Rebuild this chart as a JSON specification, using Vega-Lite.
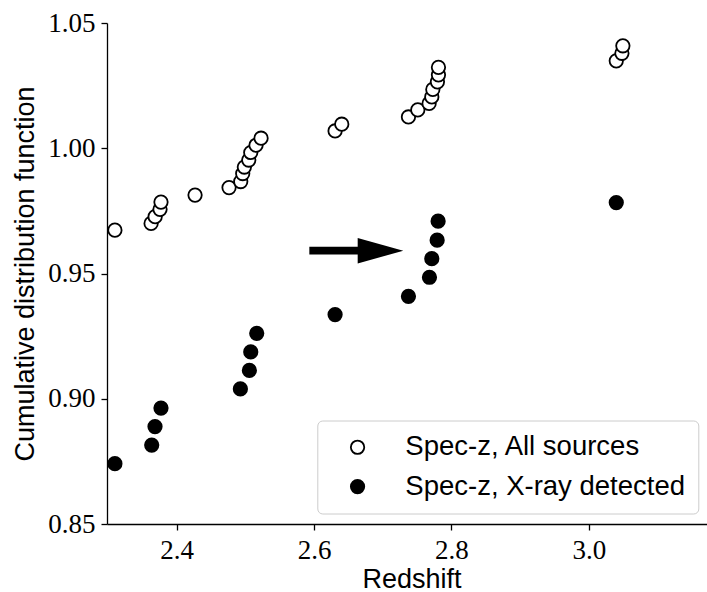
{
  "$schema": "https://vega.github.io/schema/vega-lite/v6.json",
  "autosize": "none",
  "padding": {"left": 107, "top": 23, "right": 0, "bottom": 68},
  "width": 600,
  "height": 501,
  "background": "white",
  "config": {
    "view": {"stroke": null},
    "axis": {
      "grid": false,
      "domainColor": "black",
      "domainWidth": 1.3,
      "tickColor": "black",
      "tickWidth": 1.3,
      "tickSize": 6,
      "labelFont": "Liberation Serif",
      "labelFontSize": 27,
      "labelColor": "black",
      "titleFont": "Liberation Sans",
      "titleFontSize": 27,
      "titleFontWeight": "normal",
      "titleColor": "black"
    }
  },
  "layer": [
    {
      "data": {"values": [
        {"z": 2.310, "cdf": 0.9673, "sample": "Spec-z, All sources"},
        {"z": 2.3627, "cdf": 0.9700, "sample": "Spec-z, All sources"},
        {"z": 2.3686, "cdf": 0.9727, "sample": "Spec-z, All sources"},
        {"z": 2.3757, "cdf": 0.9756, "sample": "Spec-z, All sources"},
        {"z": 2.3771, "cdf": 0.9785, "sample": "Spec-z, All sources"},
        {"z": 2.4267, "cdf": 0.9813, "sample": "Spec-z, All sources"},
        {"z": 2.4762, "cdf": 0.9843, "sample": "Spec-z, All sources"},
        {"z": 2.4932, "cdf": 0.9867, "sample": "Spec-z, All sources"},
        {"z": 2.4961, "cdf": 0.9899, "sample": "Spec-z, All sources"},
        {"z": 2.4985, "cdf": 0.9925, "sample": "Spec-z, All sources"},
        {"z": 2.5049, "cdf": 0.9953, "sample": "Spec-z, All sources"},
        {"z": 2.5078, "cdf": 0.9983, "sample": "Spec-z, All sources"},
        {"z": 2.5155, "cdf": 1.0012, "sample": "Spec-z, All sources"},
        {"z": 2.5228, "cdf": 1.0040, "sample": "Spec-z, All sources"},
        {"z": 2.6306, "cdf": 1.0069, "sample": "Spec-z, All sources"},
        {"z": 2.6403, "cdf": 1.0096, "sample": "Spec-z, All sources"},
        {"z": 2.7374, "cdf": 1.0125, "sample": "Spec-z, All sources"},
        {"z": 2.7510, "cdf": 1.0153, "sample": "Spec-z, All sources"},
        {"z": 2.7675, "cdf": 1.0179, "sample": "Spec-z, All sources"},
        {"z": 2.7714, "cdf": 1.0205, "sample": "Spec-z, All sources"},
        {"z": 2.7729, "cdf": 1.0235, "sample": "Spec-z, All sources"},
        {"z": 2.7796, "cdf": 1.0265, "sample": "Spec-z, All sources"},
        {"z": 2.7811, "cdf": 1.0293, "sample": "Spec-z, All sources"},
        {"z": 2.7811, "cdf": 1.0323, "sample": "Spec-z, All sources"},
        {"z": 3.0400, "cdf": 1.0349, "sample": "Spec-z, All sources"},
        {"z": 3.0482, "cdf": 1.0379, "sample": "Spec-z, All sources"},
        {"z": 3.0496, "cdf": 1.0409, "sample": "Spec-z, All sources"},
        {"z": 2.310, "cdf": 0.8741, "sample": "Spec-z, X-ray detected"},
        {"z": 2.3636, "cdf": 0.8815, "sample": "Spec-z, X-ray detected"},
        {"z": 2.3684, "cdf": 0.8889, "sample": "Spec-z, X-ray detected"},
        {"z": 2.3771, "cdf": 0.8963, "sample": "Spec-z, X-ray detected"},
        {"z": 2.4927, "cdf": 0.9039, "sample": "Spec-z, X-ray detected"},
        {"z": 2.5058, "cdf": 0.9113, "sample": "Spec-z, X-ray detected"},
        {"z": 2.5078, "cdf": 0.9187, "sample": "Spec-z, X-ray detected"},
        {"z": 2.5165, "cdf": 0.9261, "sample": "Spec-z, X-ray detected"},
        {"z": 2.6306, "cdf": 0.9336, "sample": "Spec-z, X-ray detected"},
        {"z": 2.7374, "cdf": 0.9409, "sample": "Spec-z, X-ray detected"},
        {"z": 2.7680, "cdf": 0.9485, "sample": "Spec-z, X-ray detected"},
        {"z": 2.7714, "cdf": 0.9559, "sample": "Spec-z, X-ray detected"},
        {"z": 2.7792, "cdf": 0.9633, "sample": "Spec-z, X-ray detected"},
        {"z": 2.7806, "cdf": 0.9709, "sample": "Spec-z, X-ray detected"},
        {"z": 3.0400, "cdf": 0.9783, "sample": "Spec-z, X-ray detected"}
      ]},
      "mark": {"type": "point", "shape": "circle", "filled": true, "stroke": "black", "strokeWidth": 1.8, "size": 180, "opacity": 1},
      "encoding": {
        "x": {
          "field": "z", "type": "quantitative",
          "scale": {"domain": [2.2985, 3.1721], "nice": false, "zero": false},
          "axis": {
            "title": "Redshift",
            "values": [2.4, 2.6, 2.8, 3.0],
            "format": ".1f",
            "labelBaseline": "alphabetic",
            "labelPadding": 28,
            "titleX": 304.5,
            "titleY": 63,
            "titleBaseline": "alphabetic",
            "titleAlign": "center"
          }
        },
        "y": {
          "field": "cdf", "type": "quantitative",
          "scale": {"domain": [0.85, 1.05], "nice": false, "zero": false},
          "axis": {
            "title": "Cumulative distribution function",
            "values": [0.85, 0.9, 0.95, 1.0, 1.05],
            "format": ".2f",
            "labelPadding": 6,
            "titleX": -73.7,
            "titleY": 250.5,
            "titleAngle": -90,
            "titleBaseline": "alphabetic",
            "titleAlign": "center"
          }
        },
        "fill": {
          "field": "sample", "type": "nominal",
          "scale": {"domain": ["Spec-z, All sources", "Spec-z, X-ray detected"], "range": ["white", "black"]},
          "legend": {
            "orient": "none",
            "legendX": 210.3,
            "legendY": 397.5,
            "title": null,
            "padding": 13,
            "strokeColor": "#cccccc",
            "fillColor": "white",
            "cornerRadius": 5,
            "labelFont": "Liberation Sans",
            "labelFontSize": 27.5,
            "labelColor": "black",
            "labelLimit": 0,
            "symbolType": "circle",
            "symbolSize": 180,
            "symbolStrokeColor": "black",
            "symbolStrokeWidth": 1.8,
            "symbolOffset": 13.5,
            "labelOffset": 34,
            "rowPadding": 10.3
          }
        }
      }
    },
    {
      "mark": {"type": "rule", "color": "black", "strokeWidth": 1.3},
      "encoding": {"y": {"datum": 1.05}}
    },
    {
      "data": {"values": [{"x_start": 2.5931, "x_end": 2.667, "level": 0.9591}]},
      "mark": {"type": "rule", "color": "black", "strokeWidth": 7.7, "strokeCap": "butt"},
      "encoding": {
        "x": {"field": "x_start", "type": "quantitative"},
        "x2": {"field": "x_end"},
        "y": {"field": "level", "type": "quantitative"}
      }
    },
    {
      "data": {"values": [{"x_head": 2.6967, "level": 0.9591}]},
      "mark": {"type": "point", "shape": "M -1 -0.561 L 1 0 L -1 0.561 Z", "filled": true, "fill": "black", "strokeWidth": 0, "size": 2079, "opacity": 1},
      "encoding": {
        "x": {"field": "x_head", "type": "quantitative"},
        "y": {"field": "level", "type": "quantitative"}
      }
    }
  ]
}
